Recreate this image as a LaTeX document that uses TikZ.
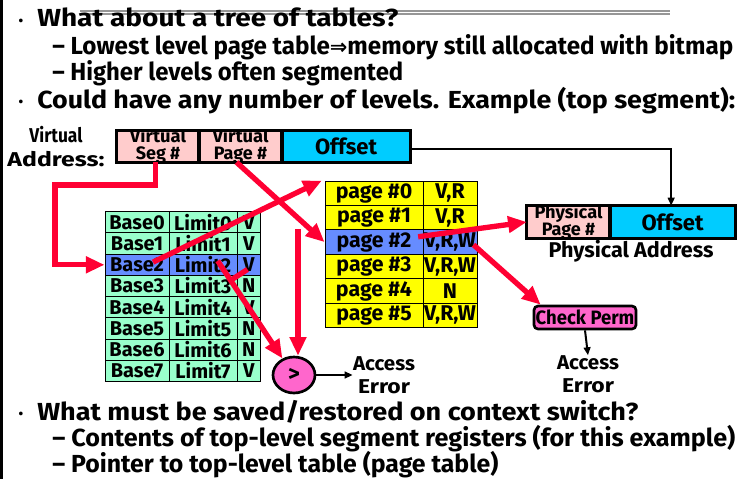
\documentclass[tikz,border=0pt]{standalone}
\usepackage{fontspec}
\usepackage{graphicx}
\setmainfont{Fira Sans}
\newfontfamily\arrowfont{DejaVu Sans}
\usetikzlibrary{arrows.meta,shapes.geometric}

\definecolor{hotred}{RGB}{255,0,51}
\definecolor{boxpink}{RGB}{255,204,204}
\definecolor{boxcyan}{RGB}{0,204,255}
\definecolor{rowgreen}{RGB}{153,255,204}
\definecolor{rowblue}{RGB}{102,140,255}
\definecolor{rowyellow}{RGB}{255,255,0}
\definecolor{hotpink}{RGB}{255,102,204}
\definecolor{rulegray}{RGB}{150,150,150}

% stretch a text horizontally to a given width, keeping its height
\newcommand\fitto[2]{\resizebox{#1}{\height}{#2}}

\tikzset{
  maintext/.style={inner sep=0pt, anchor=base west, font=\bfseries\fontsize{18.5}{20}\selectfont},
  dot/.style={inner sep=0pt, font=\bfseries\fontsize{10}{10}\selectfont},
  cell/.style={draw=black, line width=0.7pt, inner sep=0pt},
  segcell/.style={cell, minimum height=15.94pt, font=\bfseries\fontsize{15}{15}\selectfont},
  pagecell/.style={cell, minimum height=18.34pt, fill=rowyellow, font=\bfseries\fontsize{16}{16}\selectfont},
  field/.style={inner sep=0pt, minimum height=23.25pt},
  fieldtext/.style={inner sep=0pt, align=center},
  smallfield/.style={fieldtext, anchor=south, font=\bfseries\fontsize{13.5}{13}\selectfont},
  outline/.style={draw=black, line width=2pt},
  label/.style={inner sep=0pt, align=center, font=\bfseries\fontsize{15}{17}\selectfont},
  redarrow/.style={draw=hotred, line width=4pt, line join=miter,
    -{Triangle[length=14pt,width=12pt]}},
  redline/.style={draw=hotred, line width=4pt},
  blackarrow/.style={draw=black, line width=1.5pt, -{Triangle[length=6pt,width=5pt]}},
}

\begin{document}
\begin{tikzpicture}[x=0.75pt,y=-0.75pt]
\useasboundingbox (0,0) rectangle (738,479);

% slide frame details
\draw[line width=2.25pt] (1.5,0) -- (1.5,479);
\draw[rulegray, line width=0.9pt] (80,11) -- (670,11);
\draw[rulegray, line width=0.9pt] (80,14) -- (670,14);

% upper bullet list
\node[dot] (d1) at (21,22) {•};
\node[maintext] (t1) at (37,26) {\fitto{270.75pt}{What about a tree of tables?}};
\node[maintext] (t2) at (52,54) {\fitto{510.75pt}{– Lowest level page table{\arrowfont\fontsize{16}{16}\selectfont ⇒}memory still allocated with bitmap}};
\node[maintext] (t3) at (52,80) {\fitto{263.25pt}{– Higher levels often segmented}};
\node[dot] (d2) at (21,103) {•};
\node[maintext] (t4) at (37,108) {\fitto{523.5pt}{Could have any number of levels. Example (top segment):}};

% virtual address
\node[label, font=\bfseries\fontsize{15}{18}\selectfont] (valabel) at (56,147)
  {\fitto{39.75pt}{Virtual}\\\fitto{72.75pt}{Address:}};
\node[field, fill=boxpink, minimum width=61.5pt] (vseg) at (158,146.5) {};
\node[field, fill=boxpink, minimum width=62.25pt] (vpage) at (240.5,146.5) {};
\node[field, fill=boxcyan, minimum width=96pt] (voff) at (346,146.5) {};
\begin{scope}
  \clip (vseg.north west) rectangle (vpage.south east);
  \node[smallfield] (vsegt) at ([yshift=-1pt]vseg.south) {\fitto{42pt}{Virtual}\\Seg \#};
  \node[smallfield] (vpaget) at ([yshift=-1pt]vpage.south) {\fitto{42pt}{Virtual}\\Page \#};
\end{scope}
\node[fieldtext, font=\bfseries\fontsize{16.5}{16.5}\selectfont] (vofft) at (voff) {\fitto{46.5pt}{Offset}};
\draw[outline] (vseg.north west) rectangle (vseg.south east);
\draw[outline] (vpage.north west) rectangle (vpage.south east);
\draw[outline] (voff.north west) rectangle (voff.south east);

% physical address
\node[field, minimum height=24pt, fill=boxpink, minimum width=62.25pt] (ppage) at (568.5,222) {};
\node[field, minimum height=24pt, fill=boxcyan, minimum width=93.75pt] (poff) at (672.5,222) {};
\begin{scope}
  \clip (ppage.north west) rectangle (ppage.south east);
  \node[smallfield] (ppaget) at ([yshift=-1pt]ppage.south) {\fitto{51pt}{Physical}\\Page \#};
\end{scope}
\node[fieldtext, font=\bfseries\fontsize{16.5}{16.5}\selectfont] (pofft) at (poff) {\fitto{46.5pt}{Offset}};
\draw[outline] (ppage.north west) rectangle (ppage.south east);
\draw[outline] (poff.north west) rectangle (poff.south east);
\node[label, font=\bfseries\fontsize{16}{16}\selectfont] (palabel) at (631,251) {\fitto{123.75pt}{Physical Address}};

% segment table
\foreach \i/\v in {0/V,1/V,2/V,3/N,4/V,5/N,6/N,7/V} {
  \ifnum\i=2 \def\rowfill{rowblue}\else\def\rowfill{rowgreen}\fi
  \pgfmathsetmacro\yy{222.3+21.25*\i}
  \node[segcell, fill=\rowfill, minimum width=48pt] (seg\i b) at (137,\yy) {Base\i};
  \node[segcell, fill=\rowfill, minimum width=51pt] (seg\i l) at (203,\yy) {Limit\i};
  \node[segcell, fill=\rowfill, minimum width=17.8pt] (seg\i v) at (248.85,\yy) {\v};
}

% page table
\foreach \i/\p in {0/{V,R},1/{V,R},2/{V,R,W},3/{V,R,W},4/{N},5/{V,R,W}} {
  \ifnum\i=2 \def\rowfill{rowblue}\else\def\rowfill{rowyellow}\fi
  \pgfmathsetmacro\yy{193.2+24.45*\i}
  \node[pagecell, fill=\rowfill, minimum width=73.5pt] (pg\i n) at (374,\yy) {page \#\i};
  \node[pagecell, fill=\rowfill, minimum width=40.5pt] (pg\i p) at (450,\yy) {\p};
}

% permission check and limit comparator
\node[draw=black, line width=2pt, rounded corners=3pt, fill=hotpink, inner sep=0pt,
  minimum width=76.5pt, minimum height=17.25pt,
  font=\bfseries\fontsize{14.5}{14.5}\selectfont] (chk) at (585,317.5) {\fitto{74pt}{Check Perm}};
\node[ellipse, draw=black, line width=2pt, fill=hotpink, inner sep=0pt,
  minimum width=31.5pt, minimum height=27pt,
  font=\bfseries\fontsize{17}{17}\selectfont] (cmp) at (294,375) {>};
\node[label] (err1) at (384,375) {\fitto{46.5pt}{Access}\\\fitto{39pt}{Error}};
\node[label] (err2) at (588,374) {\fitto{46.5pt}{Access}\\\fitto{39pt}{Error}};

% black connectors
\draw[blackarrow] ([yshift=-2pt]voff.east) -| ([xshift=-1pt]poff.north);
\draw[blackarrow] (chk.south) -- (err2.north);
\draw[blackarrow] (cmp.east) -- (err1.west);

% red connectors
\coordinate (segbend) at (55,185);
\draw[redarrow] ([xshift=-2pt]vseg.south) |- (segbend) |- (seg2b.west);
\draw[redarrow] ([xshift=12pt,yshift=2pt]seg2b.center) -- ([xshift=-2pt]pg0n.north west);
\draw[redarrow] ([xshift=-3pt]vpage.south) -- (pg2n.west);
\coordinate (lim) at ([xshift=11pt,yshift=3pt]seg2l.center);
\path (lim) -- (cmp.125) coordinate[pos=0.2] (vjoin);
\draw[redarrow] (lim) -- (cmp.125);
\draw[redline] ([xshift=-1pt,yshift=-3.5pt]seg2v.center) -- (vjoin);
\coordinate (ptop) at (298,229);
\draw[redarrow] (ptop) -- (ptop |- cmp.north);
\draw[redarrow] ([xshift=-4pt,yshift=4pt]pg2n.east) -- (ppage.west);
\draw[redarrow] ([xshift=-3pt,yshift=-2pt]pg2p.east) -- ([xshift=6pt]chk.north west);

% lower bullet list
\node[dot] (d3) at (21,415) {•};
\node[maintext] (t5) at (37,420) {\fitto{450.75pt}{What must be saved/restored on context switch?}};
\node[maintext] (t6) at (52,446) {\fitto{512.25pt}{– Contents of top-level segment registers (for this example)}};
\node[maintext] (t7) at (52,472) {\fitto{334.5pt}{– Pointer to top-level table (page table)}};
\end{tikzpicture}
\end{document}
